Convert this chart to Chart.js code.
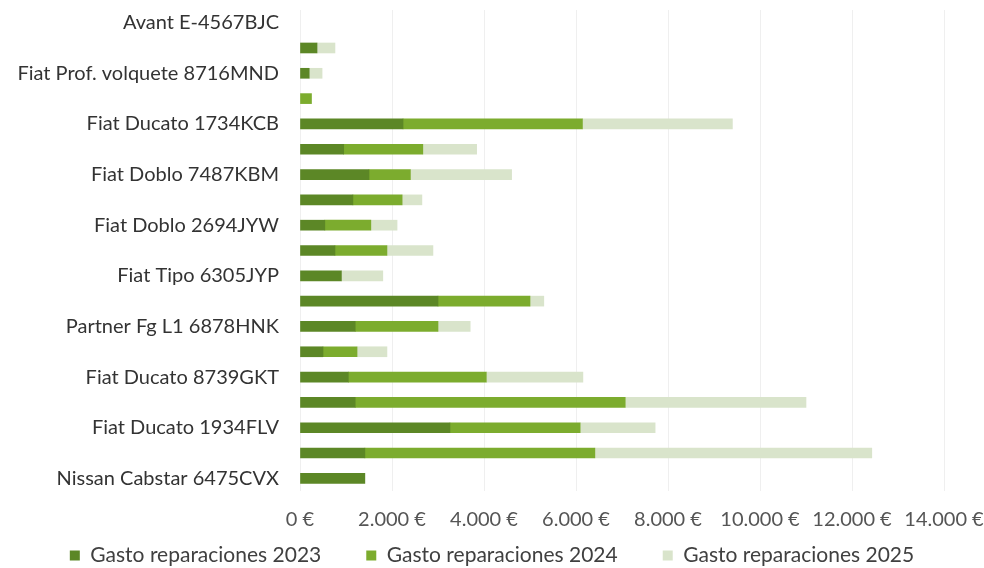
<!DOCTYPE html>
<html>
<head>
<meta charset="utf-8">
<script src="https://cdn.jsdelivr.net/npm/chart.js@4/dist/chart.umd.min.js"></script>
<style>
  html, body { margin: 0; padding: 0; background: #fff; }
  #wrap { width: 984px; height: 568px; position: relative; }
</style>
</head>
<body>
<div id="wrap"><canvas id="chart"></canvas></div>
<script>
// vehículos (solo se ve una etiqueta de cada dos)
const vehicles = [
  "Avant E-4567BJC", "",
  "Fiat Prof. volquete 8716MND", "",
  "Fiat Ducato 1734KCB", "",
  "Fiat Doblo 7487KBM", "",
  "Fiat Doblo 2694JYW", "",
  "Fiat Tipo 6305JYP", "",
  "Partner Fg L1 6878HNK", "",
  "Fiat Ducato 8739GKT", "",
  "Fiat Ducato 1934FLV", "",
  "Nissan Cabstar 6475CVX",
];

const gasto2023 = [null, 370, 200, null, 2240, 950, 1500, 1150, 540, 760, 900, 3000, 1200, 500, 1050, 1200, 3260, 1410, 1410];
const gasto2024 = [null, null, null, 250, 3900, 1720, 900, 1070, 1000, 1130, null, 2000, 1800, 740, 3000, 5870, 2830, 5000, null];
const gasto2025 = [null, 390, 280, null, 3260, 1170, 2200, 430, 570, 1000, 900, 300, 700, 650, 2100, 3930, 1630, 6020, null];

const xTicks = [0, 2000, 4000, 6000, 8000, 10000, 12000, 14000];

function euro(v) {
  return String(v).replace(/\B(?=(\d{3})+(?!\d))/g, ".") + " €";
}

const FONT = "Lato, 'Open Sans', sans-serif";

// leyenda más baja: se fija su alto tras el fit
const legendHeight = {
  id: "legendHeight",
  afterInit(chart) {
    const fit = chart.legend.fit;
    chart.legend.fit = function () {
      fit.call(this);
      this.height = 26;
    };
  },
};

new Chart(document.getElementById("chart"), {
  type: "bar",
  data: {
    labels: vehicles,
    datasets: [
      { label: "Gasto reparaciones 2023", data: gasto2023, backgroundColor: "#5c8726" },
      { label: "Gasto reparaciones 2024", data: gasto2024, backgroundColor: "#7cac2e" },
      { label: "Gasto reparaciones 2025", data: gasto2025, backgroundColor: "#d9e4cb" },
    ],
  },
  options: {
    indexAxis: "y",
    responsive: true,
    maintainAspectRatio: false,
    animation: false,
    layout: { padding: { top: 10, right: 0, bottom: 0, left: 0 } },
    datasets: { bar: { barThickness: 10, borderWidth: 0 } },
    plugins: {
      tooltip: { enabled: false },
      legend: {
        position: "bottom",
        labels: {
          color: "#404040",
          font: { family: FONT, size: 21 },
          boxWidth: 10,
          boxHeight: 10,
          padding: 3,
          // huecos más anchos entre elementos de la leyenda
          generateLabels: chart => {
            const items = Chart.defaults.plugins.legend.labels.generateLabels(chart);
            items.forEach((it, i) => {
              if (i < items.length - 1) it.text += "\u2002\u2002\u2002\u2002";
            });
            return items;
          },
        },
      },
    },
    scales: {
      x: {
        stacked: true,
        min: 0,
        max: 14000,
        afterBuildTicks: s => { s.ticks = xTicks.map(v => ({ value: v })); },
        afterFit: s => {
          s.height = 51;
          s.paddingLeft = 0;
          s.paddingRight = 40;
        },
        ticks: {
          color: "#555",
          font: { family: FONT, size: 20 },
          padding: 17,
          callback: v => euro(v),
        },
        grid: { color: "#efefef", drawTicks: false },
        border: { display: false },
      },
      y: {
        stacked: true,
        afterFit: s => {
          s.width = 300;
          s.paddingTop = 0;
          s.paddingBottom = 0;
        },
        ticks: {
          autoSkip: false,
          color: "#333",
          font: { family: FONT, size: 20 },
          padding: 13,
        },
        grid: { display: false },
        border: { display: false },
      },
    },
  },
  plugins: [legendHeight],
});
</script>
</body>
</html>
